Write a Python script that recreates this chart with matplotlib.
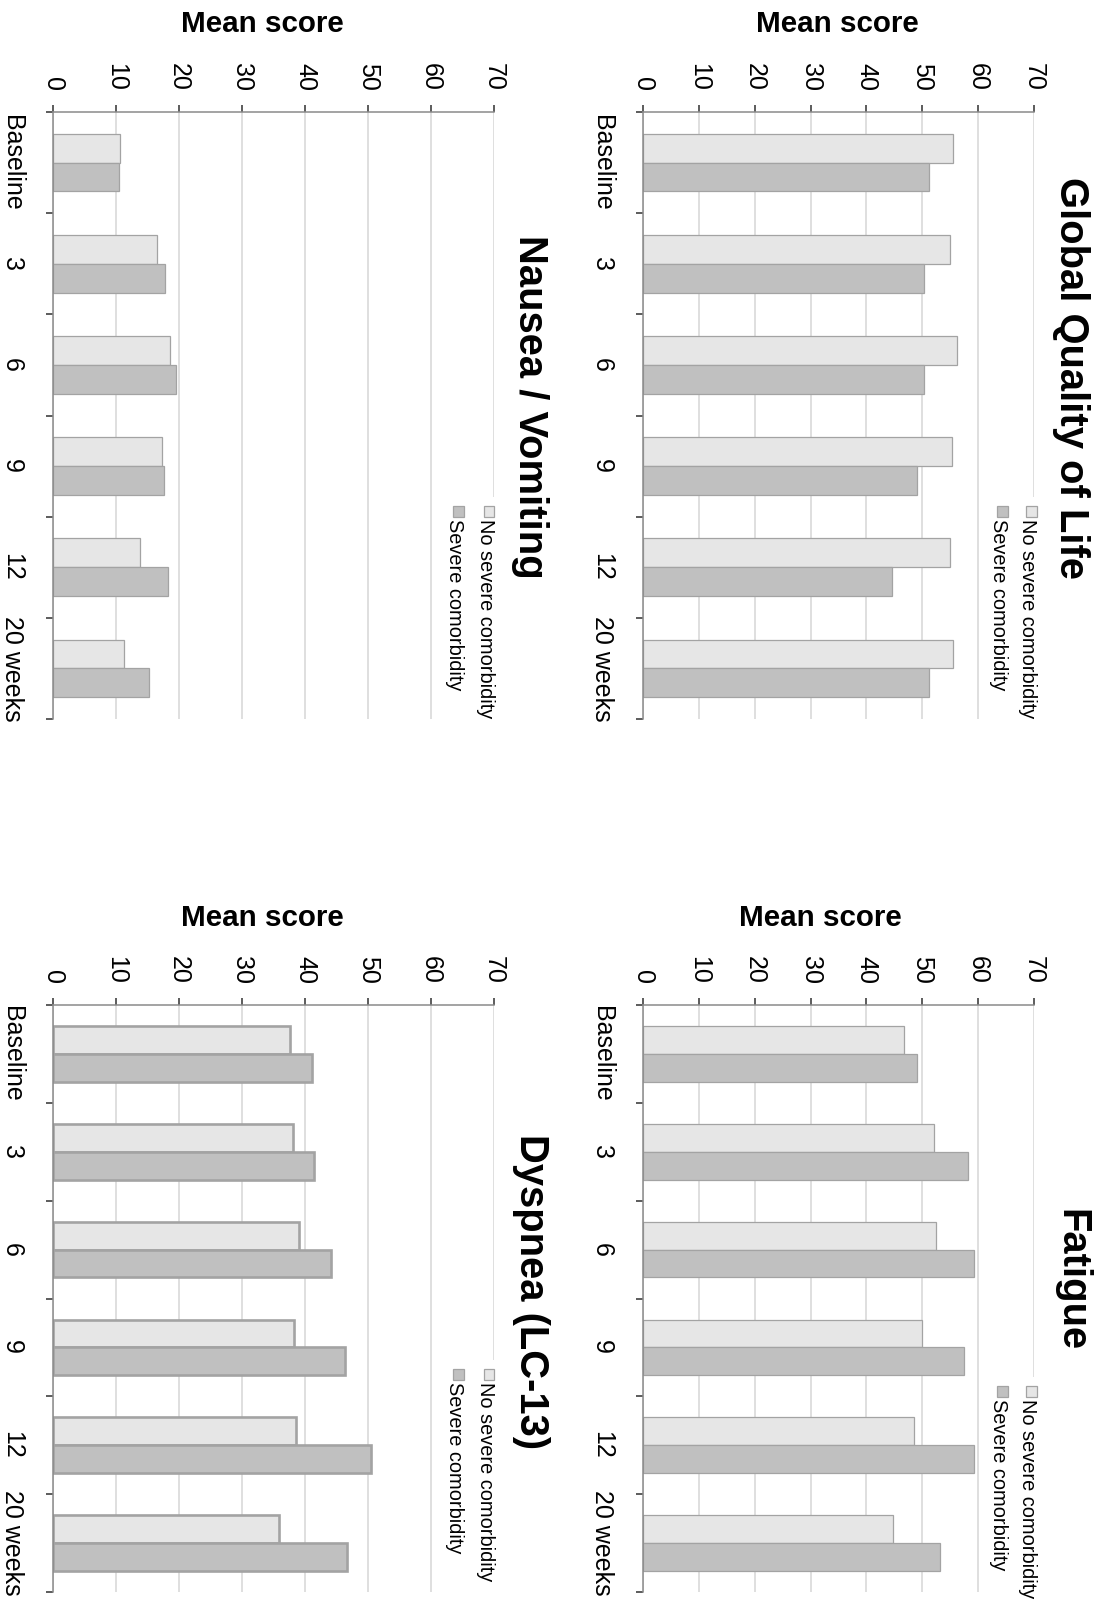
import matplotlib
matplotlib.use("Agg")
import matplotlib.pyplot as plt
from matplotlib.patches import Rectangle
import numpy as np

plt.rcParams['font.family'] = ['Liberation Sans', 'DejaVu Sans']

# Time points and group labels
timepoints = ['Baseline', '3', '6', '9', '12', '20 weeks']
legend_labels = ['No severe comorbidity', 'Severe comorbidity']
score_ticks = [0, 10, 20, 30, 40, 50, 60, 70]

# Mean scores per domain
gqol_no_severe = [55.5, 55.0, 56.3, 55.3, 55.0, 55.5]
gqol_severe = [51.2, 50.3, 50.3, 49.1, 44.6, 51.2]
fatigue_no_severe = [46.7, 52.1, 52.4, 50.0, 48.5, 44.7]
fatigue_severe = [49.0, 58.2, 59.3, 57.5, 59.3, 53.2]
nausea_no_severe = [10.7, 16.5, 18.5, 17.3, 13.8, 11.2]
nausea_severe = [10.5, 17.8, 19.6, 17.6, 18.3, 15.2]
dyspnea_no_severe = [37.6, 38.1, 39.0, 38.3, 38.5, 35.8]
dyspnea_severe = [41.1, 41.4, 44.1, 46.4, 50.4, 46.6]

LIGHT = '#e6e6e6'
DARK = '#c0c0c0'
EDGE = '#a3a3a3'
GRID = '#d9d9d9'
SPINE = '#8a8a8a'

W, H = 1103, 1602
fig = plt.figure(figsize=(W / 100, H / 100), dpi=100)


def px_rect(x0, y0, x1, y1):
    return [x0 / W, 1 - y1 / H, (x1 - x0) / W, (y1 - y0) / H]


def fx(x):
    return x / W


def fy(y):
    return 1 - y / H


panels = [
    dict(title='Global Quality of Life', no=gqol_no_severe, sev=gqol_severe,
         box=(643, 112, 1034, 719), title_xy=(1071, 378), ylab_xy=(837, 24),
         legend=(1036.7, 1007.8, 506), edge_lw=0.9),
    dict(title='Nausea / Vomiting', no=nausea_no_severe, sev=nausea_severe,
         box=(53, 112, 494, 719), title_xy=(530, 407), ylab_xy=(262.5, 24),
         legend=(494.0, 463.5, 506), edge_lw=0.9),
    dict(title='Fatigue', no=fatigue_no_severe, sev=fatigue_severe,
         box=(643, 1005, 1034, 1592), title_xy=(1071, 1280), ylab_xy=(820, 918),
         legend=(1036.7, 1007.8, 1386), edge_lw=0.9),
    dict(title='Dyspnea (LC-13)', no=dyspnea_no_severe, sev=dyspnea_severe,
         box=(53, 1005, 494, 1592), title_xy=(531, 1292), ylab_xy=(262.5, 918),
         legend=(494.0, 463.5, 1369), edge_lw=1.9),
]

bar_h = 0.285
centers = np.arange(len(timepoints)) + 0.5

for p in panels:
    x0, y0, x1, y1 = p['box']
    ax = fig.add_axes(px_rect(x0, y0, x1, y1))
    ax.barh(centers - bar_h / 2, p['no'], height=bar_h, color=LIGHT,
            edgecolor=EDGE, linewidth=p['edge_lw'], zorder=2)
    ax.barh(centers + bar_h / 2, p['sev'], height=bar_h, color=DARK,
            edgecolor=EDGE, linewidth=p['edge_lw'], zorder=2)

    ax.set_xlim(0, 70)
    ax.set_ylim(len(timepoints), 0)

    # value axis along the top
    ax.xaxis.tick_top()
    ax.set_xticks(score_ticks)
    ax.set_xticklabels([str(t) for t in score_ticks])
    ax.tick_params(axis='x', which='major', direction='out', length=5.3,
                   width=1.1, color='#303030', pad=10.0, labelsize=18)
    for lab in ax.get_xticklabels():
        lab.set_rotation(-90)
        lab.set_ha('center')
        lab.set_va('bottom')

    # category axis with ticks between groups
    ax.set_yticks(np.arange(len(timepoints) + 1))
    ax.set_yticklabels([])
    ax.set_yticks(centers, minor=True)
    ax.set_yticklabels(timepoints, minor=True)
    ax.tick_params(axis='y', which='major', direction='out', length=5.4,
                   width=1.1, color='#303030')
    ax.tick_params(axis='y', which='minor', length=0, pad=21.0, labelsize=18)
    for lab in ax.get_yticklabels(minor=True):
        lab.set_rotation(-90)
        lab.set_ha('right')
        lab.set_va('center')

    ax.grid(axis='x', color=GRID, linewidth=1.2)
    ax.set_axisbelow(True)
    for side in ('right', 'bottom'):
        ax.spines[side].set_visible(False)
    for side in ('top', 'left'):
        ax.spines[side].set_color(SPINE)
        ax.spines[side].set_linewidth(1.1)

    # axis title and chart title
    tx, ty = p['ylab_xy']
    fig.text(fx(tx), fy(ty), 'Mean score', ha='center', va='center',
             fontsize=21.3, fontweight='bold')
    tx, ty = p['title_xy']
    fig.text(fx(tx), fy(ty), p['title'], ha='center', va='center',
             rotation=-90, fontsize=28.8, fontweight='bold')

    # legend drawn with rotated entries on a white panel
    r1, r2, top = p['legend']
    sq = 10.5
    fig.patches.append(Rectangle((fx(r2 - sq - 8), fy(y1 + 1)),
                                 (r1 - r2 + sq + 14) / W, (y1 + 1 - (top - 9)) / H,
                                 transform=fig.transFigure, facecolor='white',
                                 edgecolor='none', zorder=1))
    for right, color, label in ((r1, LIGHT, legend_labels[0]),
                                (r2, DARK, legend_labels[1])):
        fig.patches.append(Rectangle((fx(right - sq), fy(top + sq)), sq / W, sq / H,
                                     transform=fig.transFigure, facecolor=color,
                                     edgecolor=EDGE, linewidth=0.9, zorder=2))
        fig.text(fx(right + 0.5), fy(top + 13), label, ha='right', va='top',
                 rotation=-90, fontsize=14.4, zorder=3)

fig.savefig('out.png', dpi=100, facecolor='white')
